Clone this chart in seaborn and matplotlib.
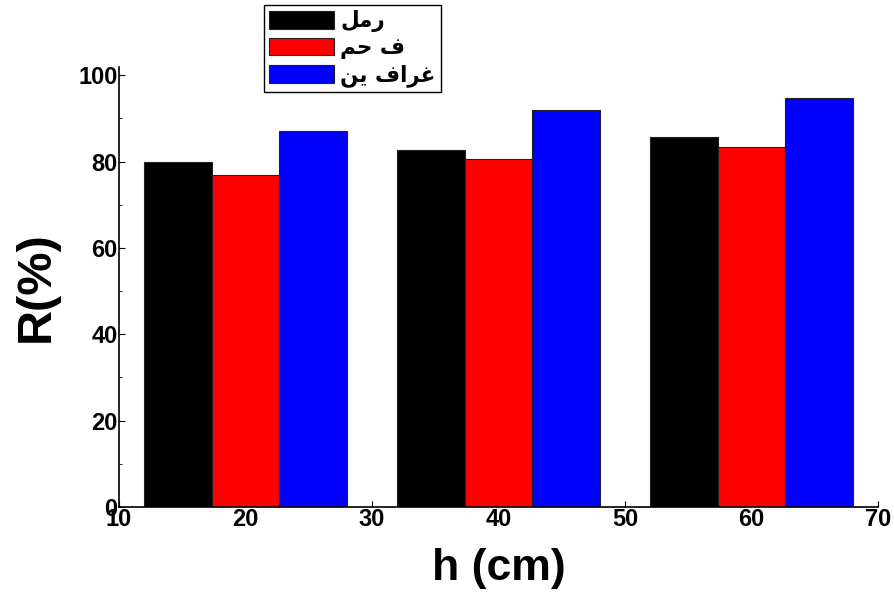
import numpy as np
import pandas as pd
import seaborn as sns
import matplotlib
matplotlib.use('Agg')
import matplotlib.pyplot as plt
from matplotlib.ticker import MultipleLocator

# data
h_cm = [20, 40, 60]
# legend labels, written in visual order with presentation forms
# (matplotlib does no arabic shaping)
materials = ['\uFEDE\uFEE3\uFEAD',                       # رمل
             '\uFEE2\uFEA3 \uFED1',                      # فحم
             '\uFEE6\uFEF3 \uFED1\uFE8D\uFEAE\uFECF']    # غرافين
colors = ['#000000', '#ff0000', '#0000ff']
r_sand = [79.8, 82.8, 85.7]
r_coal = [76.9, 80.5, 83.3]
r_graph = [87.1, 91.9, 94.7]

df = pd.DataFrame({
    'h': h_cm * 3,
    'R': r_sand + r_coal + r_graph,
    'mat': [materials[0]] * 3 + [materials[1]] * 3 + [materials[2]] * 3,
})

sns.set_style('ticks')
plt.rcParams['font.family'] = ['Liberation Sans', 'DejaVu Sans']
plt.rcParams['font.weight'] = 'bold'
plt.rcParams['text.color'] = 'black'
plt.rcParams['axes.labelcolor'] = 'black'
plt.rcParams['xtick.color'] = 'black'
plt.rcParams['ytick.color'] = 'black'

fig = plt.figure(figsize=(8.94, 5.95), dpi=100)
ax = fig.add_axes([0.133, 0.148, 0.849, 0.740])

sns.barplot(data=df, x='h', y='R', hue='mat', hue_order=materials,
            palette=colors, native_scale=True, width=0.8,
            edgecolor='#222222', linewidth=0.8, saturation=1,
            errorbar=None, ax=ax)

ax.set_xlim(10, 70)
ax.set_ylim(0, 102)
ax.set_xticks([10, 20, 30, 40, 50, 60, 70])
ax.set_yticks([0, 20, 40, 60, 80, 100])
ax.yaxis.set_minor_locator(MultipleLocator(10))
ax.xaxis.set_minor_locator(MultipleLocator(10))
ax.tick_params(which='both', direction='in', labelsize=17, pad=1)
ax.tick_params(which='major', length=4)
ax.tick_params(which='minor', length=2)
for lab in ax.get_xticklabels() + ax.get_yticklabels():
    lab.set_fontweight('bold')

sns.despine(ax=ax)
for s in ['left', 'bottom']:
    ax.spines[s].set_linewidth(1.2)
    ax.spines[s].set_color('black')

ax.set_xlabel('h (cm)', fontsize=32, fontweight='bold', labelpad=12)
ax.set_ylabel('R(%)', fontsize=35, fontweight='bold', labelpad=14)

handles, labels = ax.get_legend_handles_labels()
leg = ax.legend(handles, labels, loc='upper left',
                bbox_to_anchor=(0.295, 0.992), bbox_transform=fig.transFigure,
                borderaxespad=0, fancybox=False, framealpha=1,
                edgecolor='black', handlelength=3.0, handleheight=0.9,
                labelspacing=0.25, handletextpad=0.3, borderpad=0.25,
                prop={'size': 15.5, 'weight': 'bold',
                      'family': ['DejaVu Sans']})
leg.get_frame().set_linewidth(1.0)

fig.savefig('out.png', dpi=100)
